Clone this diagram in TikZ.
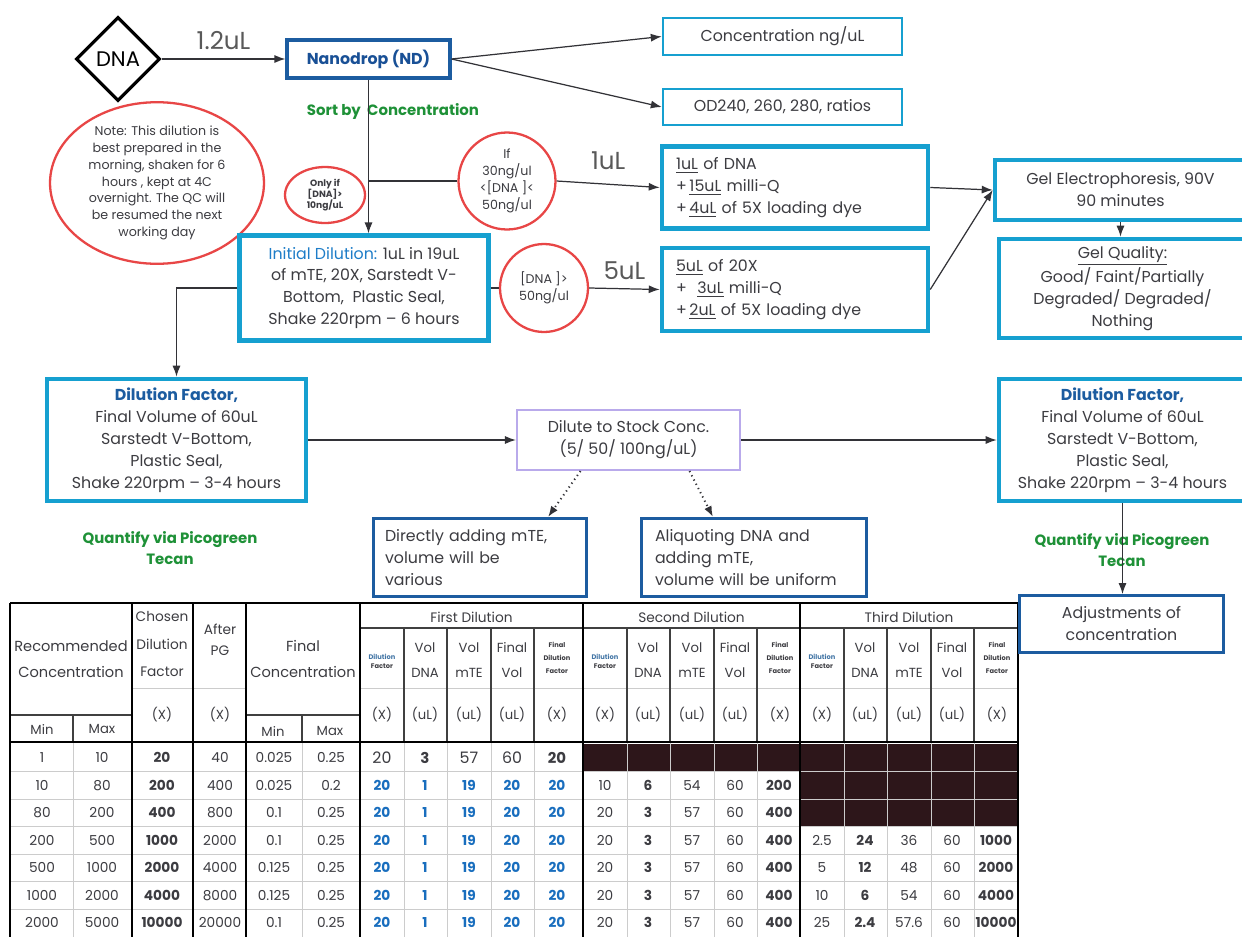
\documentclass[tikz,border=0pt]{standalone}
\usepackage{fontspec}
\setmainfont{Poppins}
\usepackage{tikz}
\usetikzlibrary{arrows.meta,positioning,calc,shapes.geometric}
\definecolor{boxCyan}{RGB}{22,160,208}
\definecolor{boxNavy}{RGB}{28,92,160}
\definecolor{navyText}{RGB}{25,80,150}
\definecolor{headBlue}{RGB}{30,125,200}
\definecolor{noteRed}{RGB}{232,70,70}
\definecolor{qcGreen}{RGB}{30,145,55}
\definecolor{lilac}{RGB}{185,170,235}
\definecolor{inkText}{RGB}{60,60,65}
\definecolor{cellDark}{RGB}{45,22,26}
\definecolor{cellBlue}{RGB}{25,110,190}
\definecolor{lineInk}{RGB}{50,50,55}
\newcommand\mainfs{\fontsize{9}{12.5}\selectfont}

\begin{document}
\begin{tikzpicture}[x=0.02cm,y=-0.02cm,
  cbox/.style={draw=boxCyan,line width=1.4pt,fill=white,inner sep=0pt,text=inkText,font=\mainfs,align=center},
  wbox/.style={cbox,line width=2.6pt},
  nbox/.style={cbox,draw=boxNavy,line width=1.6pt},
  redc/.style={draw=noteRed,line width=1.3pt,inner sep=0pt,text=inkText,align=center},
  arr/.style={draw=lineInk,line width=0.7pt,-{Latex[length=2.2mm,width=1.6mm]}},
  darr/.style={arr,dotted,line width=1.1pt},
  qlab/.style={text=qcGreen,font=\bfseries\fontsize{8.5}{11.5}\selectfont,align=center},
  bigl/.style={text=gray!70!black,font=\fontsize{14}{16}\selectfont,inner sep=1pt},
  thead/.style={text=inkText,font=\fontsize{7.5}{9}\selectfont,align=center,inner sep=0pt},
  ttiny/.style={text=inkText,font=\bfseries\fontsize{3.8}{5}\selectfont,align=center,inner sep=0pt},
  tnum/.style={text=inkText,font=\fontsize{7.8}{9}\selectfont,inner sep=0pt},
  tbold/.style={tnum,font=\bfseries\fontsize{7.8}{9}\selectfont},
  tblue/.style={tbold,text=cellBlue},
  gridl/.style={draw=gray!40,line width=0.4pt},
  hdl/.style={draw=black!75,line width=0.6pt},
  grpl/.style={draw=black,line width=1.3pt}]
  \useasboundingbox (0,0) rectangle (1242,937);
  \fill[white] (0,0) rectangle (1242,937);

  % sample and nanodrop
  \node[diamond,draw=black,line width=1.8pt,minimum width=1.68cm,minimum height=1.68cm,inner sep=0pt,
        font=\fontsize{12}{13}\selectfont] (dna) at (118,59) {DNA};
  \node[nbox,line width=1.8pt,minimum width=3.26cm,minimum height=0.76cm,text=navyText,
        font=\bfseries\fontsize{9}{11}\selectfont] (nano) at (368.5,59) {Nanodrop (ND)};
  \node[cbox,minimum width=4.78cm,minimum height=0.74cm] (conc) at (782.5,36.5) {Concentration ng/uL};
  \node[cbox,minimum width=4.78cm,minimum height=0.72cm] (od) at (782.5,107) {OD240, 260, 280, ratios};
  \draw[arr] (dna) -- node[above=4pt,bigl] (vol12) {1.2uL} (nano);
  \draw[arr] (nano.east) -- (conc.west);
  \draw[arr] (nano.east) -- (od.west);
  \node[qlab] (sortlab) at (393,111) {Sort by \ Concentration};

  % notes in red
  \node[redc,ellipse,minimum width=4.28cm,minimum height=3.2cm,font=\fontsize{7.2}{9.6}\selectfont] (note) at (157,183)
    {Note: This dilution is\\best prepared in the\\morning, shaken for 6\\hours , kept at 4C\\overnight. The QC will\\be resumed the next\\working day};
  \node[redc,ellipse,minimum width=1.6cm,minimum height=1.12cm,font=\bfseries\fontsize{5.2}{6.4}\selectfont] (onlyif) at (325,195)
    {Only if\\{[}DNA]>\\10ng/uL};
  \node[redc,circle,minimum size=1.94cm,font=\fontsize{7.2}{9.8}\selectfont] (ifc) at (507,181)
    {If\\30ng/ul\\<[DNA ]<\\50ng/ul};

  % initial dilution and gel check
  \node[wbox,minimum width=4.97cm,minimum height=2.09cm] (init) at (364,288)
    {{\color{headBlue}Initial Dilution:} 1uL in 19uL\\of mTE, 20X, Sarstedt V-\\Bottom, \ Plastic Seal,\\Shake 220rpm -- 6 hours};
  \node[redc,circle,minimum size=1.76cm,font=\fontsize{7.2}{9.8}\selectfont] (gtc) at (544,288)
    {{[}DNA ]>\\50ng/ul};
  \node[wbox,minimum width=5.32cm,minimum height=1.64cm,align=left,inner xsep=0.28cm,text width=4.76cm] (load1) at (795,187.5)
    {\underline{1uL} of DNA\\+\,\underline{15uL} milli-Q\\+\,\underline{4uL} of 5X loading dye};
  \node[wbox,minimum width=5.32cm,minimum height=1.66cm,align=left,inner xsep=0.28cm,text width=4.76cm] (load2) at (795,289.5)
    {\underline{5uL} of 20X\\+ \ \underline{3uL} milli-Q\\+\,\underline{2uL} of 5X loading dye};
  \node[wbox,minimum width=5.02cm,minimum height=1.2cm] (gel) at (1120.5,190)
    {Gel Electrophoresis, 90V\\90 minutes};
  \node[wbox,minimum width=4.94cm,minimum height=1.98cm] (gelq) at (1122.5,288.5)
    {\underline{Gel Quality:}\\Good/ Faint/Partially\\Degraded/ Degraded/\\Nothing};
  \draw[arr] (nano.south) -- (nano.south |- init.north);
  \draw[draw=lineInk,line width=0.7pt] (ifc.west) -- (ifc.west -| nano.south);
  \draw[arr] (ifc.east) -- node[above=7pt,bigl] (vol1) {1uL} (load1.west);
  \draw[draw=lineInk,line width=0.7pt] (init.east) -- (gtc.west);
  \draw[arr] (gtc.east) -- node[above=4pt,bigl] (vol5) {5uL} (load2.west);
  \draw[arr] (load1.east) -- (gel.west);
  \draw[arr] (load2.east) -- (gel.west);
  \draw[arr] (gel.south) -- (gel.south |- gelq.north);

  % dilution factor and stock
  \node[wbox,minimum width=5.18cm,minimum height=2.44cm] (dfl) at (176.5,440)
    {{\bfseries\color{boxNavy}Dilution Factor,}\\Final Volume of 60uL\\Sarstedt V-Bottom,\\Plastic Seal,\\Shake 220rpm -- 3-4 hours};
  \node[cbox,draw=lilac,line width=1.2pt,minimum width=4.46cm,minimum height=1.2cm] (dil) at (628.5,440)
    {Dilute to Stock Conc.\\(5/ 50/ 100ng/uL)};
  \node[wbox,minimum width=4.94cm,minimum height=2.44cm] (dfr) at (1122.5,440)
    {{\bfseries\color{boxNavy}Dilution Factor,}\\Final Volume of 60uL\\Sarstedt V-Bottom,\\Plastic Seal,\\Shake 220rpm -- 3-4 hours};
  \node[nbox,minimum width=4.26cm,minimum height=1.56cm,align=left,inner xsep=0.23cm,text width=3.8cm] (direct) at (480,557.5)
    {Directly adding mTE,\\volume will be\\various};
  \node[nbox,minimum width=4.5cm,minimum height=1.56cm,align=left,inner xsep=0.27cm,text width=3.96cm] (aliq) at (754,557.5)
    {Aliquoting DNA and\\adding mTE,\\volume will be uniform};
  \node[qlab] (qleft) at (170,548) {Quantify via Picogreen\\Tecan};
  \node[qlab] (qright) at (1122,550) {Quantify via Picogreen\\Tecan};
  \draw[arr] (init.west) -| (dfl.north);
  \draw[arr] (dfl.east) -- (dil.west);
  \draw[arr] (dil.east) -- (dfr.west);
  \draw[darr] ([xshift=-0.96cm]dil.south) -- ([xshift=1.36cm]direct.north);
  \draw[darr] ([xshift=1.22cm]dil.south) -- ([xshift=-0.82cm]aliq.north);

  % table
  \fill[cellDark] (583,744) rectangle (1018,771.5);
  \fill[cellDark] (800,771.5) rectangle (1018,826.5);
  \foreach \r in {1,...,6}
    \draw[gridl] (10,{744+\r*27.5}) -- (1018,{744+\r*27.5});
  \draw[gridl] (132,688) -- (246,688);
  \draw[gridl] (360,688) -- (1018,688);
  \foreach \gx in {360,583,800} \foreach \dx in {44,87,131,174} {
    \draw[hdl] (\gx+\dx,628) -- (\gx+\dx,742);
    \draw[gridl] (\gx+\dx,742) -- (\gx+\dx,937);
  }
  \foreach \x in {73,302} {
    \draw[hdl] (\x,715) -- (\x,742);
    \draw[gridl] (\x,742) -- (\x,937);
  }
  \draw[hdl] (360,628) -- (1018,628);
  \draw[hdl] (10,715) -- (132,715);
  \draw[hdl] (246,715) -- (360,715);
  \foreach \x in {10,132,193,246,360,583,800,1018}
    \draw[grpl] (\x,603) -- (\x,937);
  \draw[grpl] (10,603) -- (1018,603);
  \draw[grpl] (10,742) -- (1018,742);

  % table header
  \node[thead,font=\fontsize{8.3}{15}\selectfont] (hrec) at (71,659) {Recommended\\Concentration};
  \node[thead] (hrmin) at (42,729) {Min};
  \node[thead] (hrmax) at (102,729) {Max};
  \node[thead,font=\fontsize{7.8}{15.5}\selectfont] (hcdf) at (162,644) {Chosen\\Dilution\\Factor};
  \node[thead] (hcdfu) at (162,715) {(X)};
  \node[thead,font=\fontsize{7.8}{12}\selectfont] (hpg) at (220,640) {After\\PG};
  \node[thead] (hpgu) at (220,715) {(X)};
  \node[thead,font=\fontsize{8.3}{15}\selectfont] (hfc) at (303,659) {Final\\Concentration};
  \node[thead] (hfmin) at (273,731) {Min};
  \node[thead] (hfmax) at (330,731) {Max};
  \foreach \gx/\gc/\gname [count=\g] in {360/471.5/First Dilution,583/691.5/Second Dilution,800/909/Third Dilution} {
    \node[thead,font=\fontsize{7.8}{9}\selectfont] (grp\g) at (\gc,617) {\gname};
    \node[ttiny] (gdf\g) at (\gx+22,661) {{\color{cellBlue!60!gray}Dilution}\\Factor};
    \node[thead,font=\fontsize{7.5}{14.5}\selectfont] (gvd\g) at (\gx+65,660) {Vol\\DNA};
    \node[thead,font=\fontsize{7.5}{14.5}\selectfont] (gvm\g) at (\gx+109,660) {Vol\\mTE};
    \node[thead,font=\fontsize{7.5}{14.5}\selectfont] (gfv\g) at (\gx+152,660) {Final\\Vol};
    \node[ttiny,font=\bfseries\fontsize{3.8}{7.5}\selectfont] (gfd\g) at (\gx+197,658) {Final\\Dilution\\Factor};
    \foreach \u/\dx [count=\k] in {(X)/22,(uL)/65,(uL)/109,(uL)/152,(X)/197}
      \node[thead] (gu\g-\k) at (\gx+\dx,715) {\u};
  }

  % table body
  \foreach \va/\vb/\vc/\vd/\ve/\vf [count=\r] in {1/10/20/40/0.025/0.25,10/80/200/400/0.025/0.2,
      80/200/400/800/0.1/0.25,200/500/1000/2000/0.1/0.25,500/1000/2000/4000/0.125/0.25,
      1000/2000/4000/8000/0.125/0.25,2000/5000/10000/20000/0.1/0.25} {
    \pgfmathsetmacro\yy{730.25+\r*27.5}
    \node[tnum] (rmin\r) at (42,\yy) {\va};
    \node[tnum] (rmax\r) at (102,\yy) {\vb};
    \node[tbold] (cdf\r) at (162,\yy) {\vc};
    \node[tnum] (apg\r) at (220,\yy) {\vd};
    \node[tnum] (fmin\r) at (274,\yy) {\ve};
    \node[tnum] (fmax\r) at (331,\yy) {\vf};
  }
  \node[tnum,font=\fontsize{9}{10}\selectfont] (a1-1) at (382,757.75) {20};
  \node[tbold,font=\bfseries\fontsize{8.5}{10}\selectfont] (a1-2) at (425,757.75) {3};
  \node[tnum,font=\fontsize{9}{10}\selectfont] (a1-3) at (469,757.75) {57};
  \node[tnum,font=\fontsize{9}{10}\selectfont] (a1-4) at (512,757.75) {60};
  \node[tbold,font=\bfseries\fontsize{8.5}{10}\selectfont] (a1-5) at (557,757.75) {20};
  \foreach \r in {2,...,7} {
    \pgfmathsetmacro\yy{730.25+\r*27.5}
    \foreach \v/\cx [count=\k] in {20/382,1/425,19/469,20/512,20/557}
      \node[tblue] (a\r-\k) at (\cx,\yy) {\v};
  }
  \foreach \va/\vb/\vc/\vd/\ve [count=\r from 2] in {10/6/54/60/200,20/3/57/60/400,20/3/57/60/400,
      20/3/57/60/400,20/3/57/60/400,20/3/57/60/400} {
    \pgfmathsetmacro\yy{730.25+\r*27.5}
    \node[tnum] (b\r-1) at (605,\yy) {\va};
    \node[tbold] (b\r-2) at (648,\yy) {\vb};
    \node[tnum] (b\r-3) at (692,\yy) {\vc};
    \node[tnum] (b\r-4) at (735,\yy) {\vd};
    \node[tbold] (b\r-5) at (779,\yy) {\ve};
  }
  \foreach \va/\vb/\vc/\vd/\ve [count=\r from 4] in {2.5/24/36/60/1000,5/12/48/60/2000,
      10/6/54/60/4000,25/2.4/57.6/60/10000} {
    \pgfmathsetmacro\yy{730.25+\r*27.5}
    \node[tnum] (c\r-1) at (822,\yy) {\va};
    \node[tbold] (c\r-2) at (865,\yy) {\vb};
    \node[tnum] (c\r-3) at (909,\yy) {\vc};
    \node[tnum] (c\r-4) at (952,\yy) {\vd};
    \node[tbold] (c\r-5) at (996,\yy) {\ve};
  }

  % adjustments
  \node[nbox,minimum width=4.08cm,minimum height=1.14cm] (adj) at (1121.5,624) {Adjustments of\\concentration};
  \draw[arr] (dfr.south) -- (dfr.south |- adj.north);
\end{tikzpicture}
\end{document}
